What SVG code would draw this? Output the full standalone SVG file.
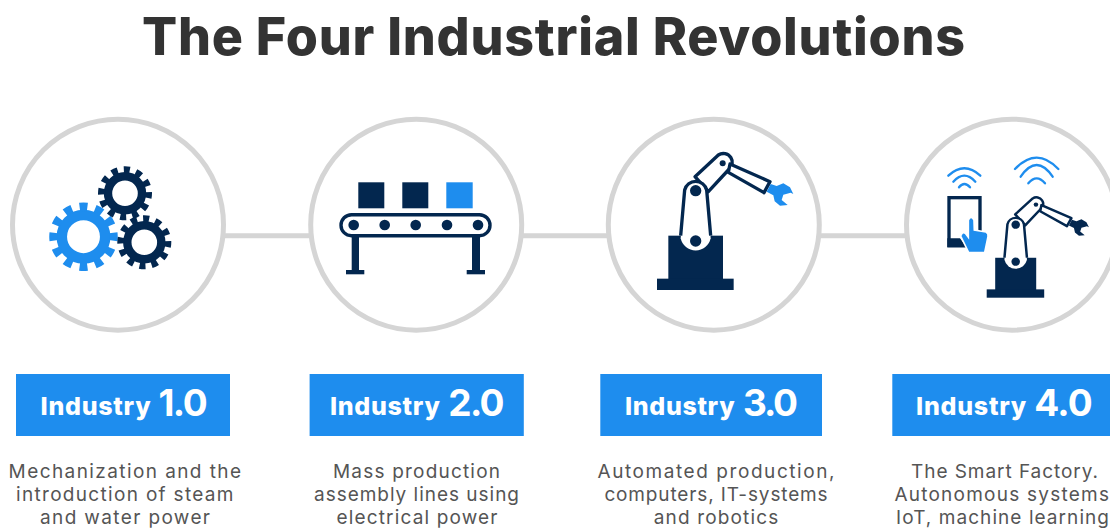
<svg xmlns="http://www.w3.org/2000/svg" xmlns:xlink="http://www.w3.org/1999/xlink" width="1110" height="529" viewBox="0 0 1110 529">
<style>
text{font-family:Inter,"Open Sans","Liberation Sans",sans-serif}
.title{font-size:52px;font-weight:800;fill:#333}
.ring{fill:#fff;stroke:#d5d5d5;stroke-width:5}
.link{fill:none;stroke:#d5d5d5;stroke-width:5}
.banner{fill:#1e8dee}
.ind{font-size:25px;font-weight:800;fill:#fff}
.num{font-size:37px;font-weight:700;fill:#fff}
.desc{font-size:19px;font-weight:400;fill:#555}
.navy{fill:#03274f}
.blue{fill:#1e8dee}
.wifi{fill:none;stroke:#1e8dee;stroke-width:7;stroke-linecap:round}
.gearb{fill:none;stroke:#1e8dee}
.gearn{fill:none;stroke:#03274f}
.arm{fill:#fff;stroke:#03274f;stroke-width:10;stroke-linejoin:round}
</style>
<defs>
<g id="robot" transform="translate(600 110) scale(.33333)">
<path class="arm" d="M285 200L355 135A26 26 0 0 1 385 180L325 245Z"/>
<circle class="navy" cx="368" cy="160" r="9"/>
<path class="arm" d="M390 162L510 215L492 248L385 187Z"/>
<path d="M512 222L500 245L520 256L524 274L540 287L563 285L545 270L550 254L572 248L580 252L570 232L550 220L530 228Z" fill="currentColor"/>
<rect class="navy" x="205" y="377" width="164" height="133"/>
<rect class="navy" x="171" y="506" width="230" height="34"/>
<path d="M242 385L254 240A34 34 0 0 1 320 240L332 385A46 46 0 0 1 242 385Z" fill="#fff"/>
<path class="arm" style="fill:none" d="M242 377L254 240A34 34 0 0 1 320 240L332 377"/>
<circle class="navy" cx="287" cy="242" r="17"/>
<circle class="navy" cx="287" cy="393" r="17"/>
</g>
</defs>

<text class="title" x="142" y="55" textLength="823">The Four Industrial Revolutions</text>

<g id="connectors">
<line class="link" x1="220" y1="235.7" x2="315" y2="235.7"/>
<line class="link" x1="518" y1="235.7" x2="612" y2="235.7"/>
<line class="link" x1="816" y1="235.7" x2="910" y2="235.7"/>
</g>

<g id="node-1">
<circle class="ring" cx="118" cy="224.7" r="105.5"/>
<circle class="gearb" cx="83.5" cy="236.7" r="21.7" stroke-width="10.5"/>
<circle class="gearb" cx="83.5" cy="236.7" r="30" stroke-width="8.5" pathLength="12" stroke-dasharray=".5 .5" stroke-dashoffset=".25"/>
<circle class="gearn" cx="125" cy="193.3" r="17" stroke-width="8.4"/>
<circle class="gearn" cx="125" cy="193.3" r="23.5" stroke-width="7" pathLength="12" stroke-dasharray=".5 .5" stroke-dashoffset=".1"/>
<circle class="gearn" cx="144.3" cy="242.3" r="17" stroke-width="8.4"/>
<circle class="gearn" cx="144.3" cy="242.3" r="23.5" stroke-width="7" pathLength="12" stroke-dasharray=".5 .5" stroke-dashoffset=".1"/>
<rect class="banner" x="16" y="374" width="214" height="62"/>
<text class="ind" x="40.6" y="415" textLength="110">Industry</text>
<text class="num" x="158.4" y="416" textLength="49.2">1.0</text>
<text class="desc" x="8.6" y="478" textLength="232.4">Mechanization and the</text>
<text class="desc" x="16" y="501" textLength="217.5">introduction of steam</text>
<text class="desc" x="40" y="524" textLength="170">and water power</text>
</g>

<g id="node-2">
<circle class="ring" cx="416.2" cy="224.7" r="105.5"/>
<rect class="navy" x="358.3" y="182.3" width="26" height="26"/>
<rect class="navy" x="402.3" y="182.3" width="26" height="26"/>
<rect class="blue" x="446.3" y="182.3" width="26.4" height="26"/>
<rect x="341" y="214.7" width="149" height="21" rx="10.5" fill="#fff" stroke="#03274f" stroke-width="3.4"/>
<circle class="navy" cx="353.7" cy="225" r="5.3"/>
<circle class="navy" cx="384.7" cy="225" r="5.3"/>
<circle class="navy" cx="415.7" cy="225" r="5.3"/>
<circle class="navy" cx="447" cy="225" r="5.3"/>
<circle class="navy" cx="478" cy="225" r="5.3"/>
<rect class="navy" x="351.7" y="237" width="7.3" height="34"/>
<rect class="navy" x="346" y="270" width="18.3" height="4.3"/>
<rect class="navy" x="472" y="237" width="8" height="34"/>
<rect class="navy" x="466.7" y="270" width="18.3" height="4.3"/>
<rect class="banner" x="309.6" y="374" width="214.2" height="62"/>
<text class="ind" x="329.9" y="415" textLength="110">Industry</text>
<text class="num" x="448.3" y="416" textLength="56.2">2.0</text>
<text class="desc" x="333" y="478" textLength="167">Mass production</text>
<text class="desc" x="314" y="501" textLength="205">assembly lines using</text>
<text class="desc" x="336.5" y="524" textLength="161">electrical power</text>
</g>

<g id="node-3" color="#1e8dee">
<circle class="ring" cx="713.8" cy="224.7" r="105.5"/>
<use href="#robot" xlink:href="#robot"/>
<rect class="banner" x="600.3" y="374" width="221.7" height="62"/>
<text class="ind" x="625" y="415" textLength="109.6">Industry</text>
<text class="num" x="742.9" y="416" textLength="55.1">3.0</text>
<text class="desc" x="597.5" y="478" textLength="237">Automated production,</text>
<text class="desc" x="604.4" y="501" textLength="223.2">computers, IT-systems</text>
<text class="desc" x="653.7" y="524" textLength="124.6">and robotics</text>
</g>

<g id="node-4" color="#03274f">
<circle class="ring" cx="1012" cy="224.7" r="105.5"/>
<g transform="translate(900 110) scale(.33333)">
<path class="wifi" d="M145 197Q193 153 241 197"/>
<path class="wifi" d="M160 215Q193 179 226 215"/>
<path class="wifi" d="M177 232Q193 212 210 232"/>
<path class="wifi" d="M345 177Q410 109 475 177"/>
<path class="wifi" d="M362 200Q410 130 458 200"/>
<path class="wifi" d="M385 220Q410 190 435 220"/>
<rect x="147" y="263" width="93" height="144" fill="#fff" stroke="#03274f" stroke-width="10"/>
<path class="navy" d="M142 385H180L200 412H142Z"/>
<path class="blue" d="M205 330Q213 315 222 330L223 360L258 366Q266 370 264 380L254 428H206L182 378Q186 364 196 370L205 382Z" stroke="#fff" stroke-width="5"/>
</g>
<use href="#robot" xlink:href="#robot" transform="translate(986.7 297.7) scale(.75 .735) translate(-657 -290)"/>
<rect class="banner" x="892.3" y="374" width="217.7" height="62"/>
<text class="ind" x="916" y="415" textLength="110.3">Industry</text>
<text class="num" x="1034.2" y="416" textLength="58.5">4.0</text>
<text class="desc" x="911" y="478" textLength="187">The Smart Factory.</text>
<text class="desc" x="894.4" y="501" textLength="214.6">Autonomous systems</text>
<text class="desc" x="896" y="524" textLength="213">IoT, machine learning</text>
</g>
</svg>
